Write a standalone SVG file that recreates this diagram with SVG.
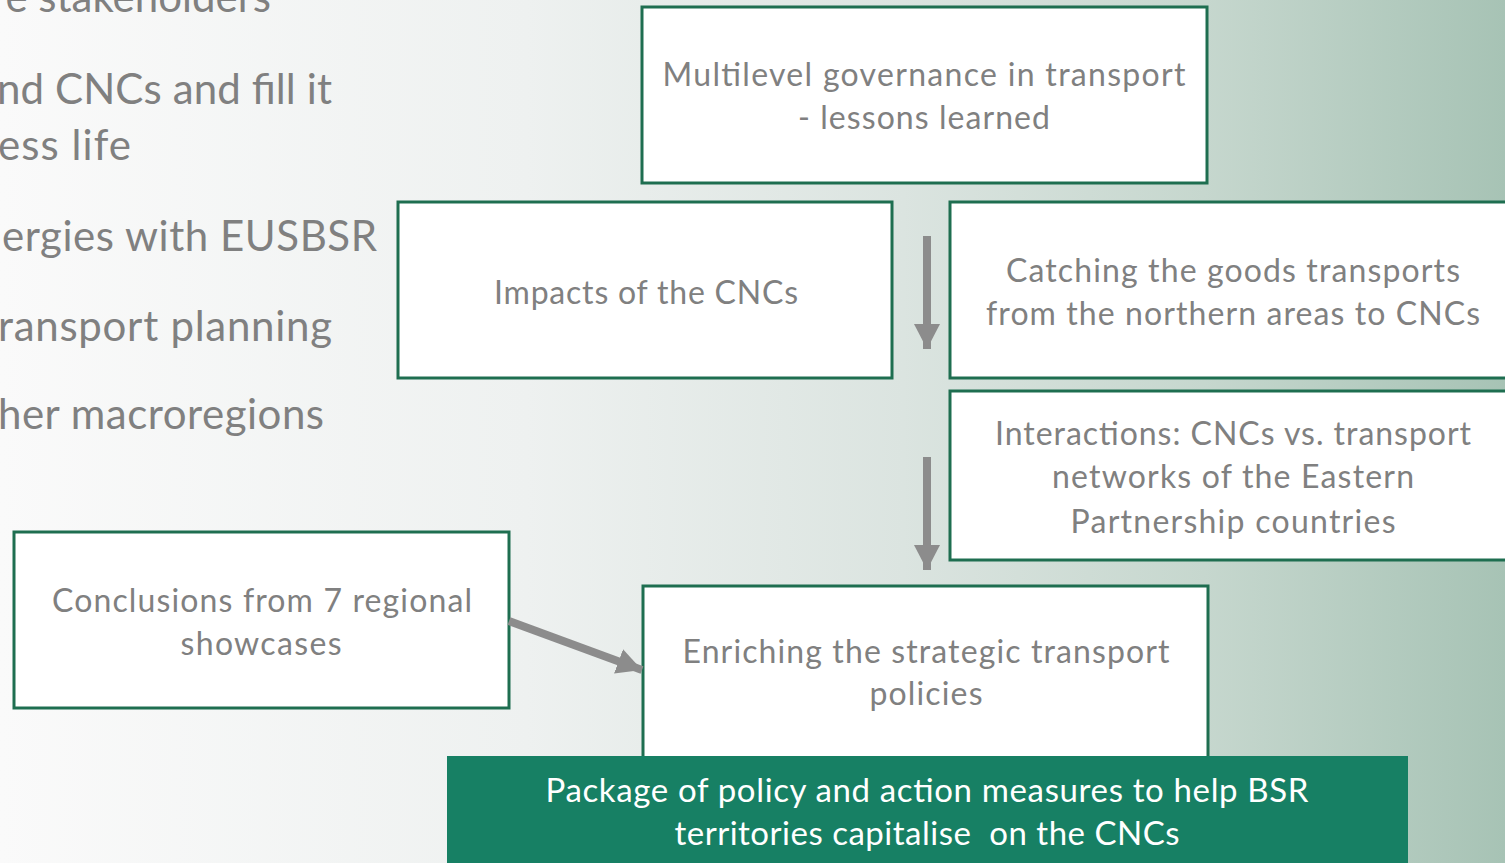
<svg xmlns="http://www.w3.org/2000/svg" width="1505" height="863" viewBox="0 0 1505 863">
<defs>
<linearGradient id="bg" x1="0" y1="0" x2="1" y2="0">
<stop offset="0" stop-color="#fafafa"/>
<stop offset="0.35" stop-color="#eef1f0"/>
<stop offset="0.6" stop-color="#dbe4e0"/>
<stop offset="0.8" stop-color="#c6d7ce"/>
<stop offset="1" stop-color="#a7c3b5"/>
</linearGradient>
<marker id="ah" markerUnits="userSpaceOnUse" markerWidth="28" markerHeight="28" refX="25" refY="13" orient="auto">
<path d="M0,0 L25,13 L0,26 Z" fill="#8c8c8c"/>
</marker>
</defs>
<style>
.box{fill:#ffffff;stroke:#1e6e50;stroke-width:3}
.t{font-family:Lato,"Open Sans",sans-serif;font-size:32px;fill:#808080;text-anchor:middle}
.side{font-family:Lato,"Open Sans",sans-serif;font-size:42px;fill:#808080;text-anchor:end}
.conn{stroke:#8c8c8c;stroke-width:8;fill:none}
.w{font-family:Lato,"Open Sans",sans-serif;font-size:33px;fill:#ffffff;text-anchor:middle}
</style>
<rect width="1505" height="863" fill="url(#bg)"/>
<g id="side-text">
<text class="side" x="271" y="12">e stakeholders</text>
<text class="side" x="332" y="104" textLength="335" lengthAdjust="spacing">nd CNCs and fill it</text>
<text class="side" x="131" y="160" textLength="133" lengthAdjust="spacing">ess life</text>
<text class="side" x="377" y="251" textLength="375" lengthAdjust="spacing">ergies with EUSBSR</text>
<text class="side" x="332" y="341" textLength="334" lengthAdjust="spacing">ransport planning</text>
<text class="side" x="324" y="429" textLength="326" lengthAdjust="spacing">her macroregions</text>
</g>
<g id="n-multilevel">
<rect class="box" x="642" y="7" width="565" height="176"/>
<text class="t" x="924" y="86" textLength="523" lengthAdjust="spacing">Multilevel governance in transport</text>
<text class="t" x="924" y="129" textLength="252" lengthAdjust="spacing">- lessons learned</text>
</g>
<g id="n-impacts">
<rect class="box" x="398" y="202" width="494" height="176"/>
<text class="t" x="646" y="304" textLength="304" lengthAdjust="spacing">Impacts of the CNCs</text>
</g>
<g id="n-catching">
<rect class="box" x="950" y="202" width="570" height="176"/>
<text class="t" x="1233" y="282" textLength="454" lengthAdjust="spacing">Catching the goods transports</text>
<text class="t" x="1233" y="325" textLength="494" lengthAdjust="spacing">from the northern areas to CNCs</text>
</g>
<g id="n-interactions">
<rect class="box" x="950" y="391" width="570" height="169"/>
<text class="t" x="1233" y="445" textLength="476" lengthAdjust="spacing">Interactions: CNCs vs. transport</text>
<text class="t" x="1233" y="488" textLength="362" lengthAdjust="spacing">networks of the Eastern</text>
<text class="t" x="1233" y="533" textLength="325" lengthAdjust="spacing">Partnership countries</text>
</g>
<g id="n-conclusions">
<rect class="box" x="14" y="532" width="495" height="176"/>
<text class="t" x="262" y="612" textLength="420" lengthAdjust="spacing">Conclusions from 7 regional</text>
<text class="t" x="261" y="655" textLength="161" lengthAdjust="spacing">showcases</text>
</g>
<g id="n-enriching">
<rect class="box" x="643" y="586" width="565" height="200"/>
<text class="t" x="926" y="663" textLength="487" lengthAdjust="spacing">Enriching the strategic transport</text>
<text class="t" x="926" y="705" textLength="113" lengthAdjust="spacing">policies</text>
</g>
<g id="n-package">
<rect x="447" y="756" width="961" height="120" fill="#178064"/>
<text class="w" x="927" y="802" textLength="763" lengthAdjust="spacing">Package of policy and action measures to help BSR</text>
<text class="w" x="927" y="845" textLength="505" lengthAdjust="spacing" xml:space="preserve">territories capitalise  on the CNCs</text>
</g>
<g id="connectors">
<line class="conn" x1="927" y1="236" x2="927" y2="349" marker-end="url(#ah)"/>
<line class="conn" x1="927" y1="457" x2="927" y2="570" marker-end="url(#ah)"/>
<line class="conn" x1="509" y1="621" x2="642" y2="670" marker-end="url(#ah)"/>
</g>
</svg>
